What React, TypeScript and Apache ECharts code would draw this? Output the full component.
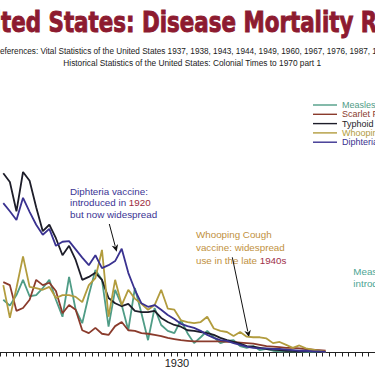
import React, { useEffect, useRef } from 'react';
import * as echarts from 'echarts';

// ---------- data ----------
const firstYear = 1903;
const lastYear = 1959;
const years: string[] = [];
for (let y = firstYear; y <= lastYear; y++) years.push(String(y));

// deaths per 100,000 population, 1903 .. 1952
const measles = [
  9.0, 8.0, 9.8, 12.4, 9.6, 9.8, 11.0, 12.4, 9.0, 6.1,
  12.9, 7.3, 5.0, 9.8, 14.1, 12.4, 4.4, 10.7, 8.1, 3.8,
  11.0, 6.7, 2.1, 7.6, 4.7, 3.7, 3.3, 5.5, 3.3, 1.6,
  2.6, 3.7, 2.6, 1.6, 2.0, 2.1, 1.1, 0.8, 1.1, 0.4,
  0.6, 0.3, 0.2, 0.2, 0.2, 0.2, 0.1, 0.1, 0.1, 0.1,
];
const scarletFever = [
  12.0, 11.5, 7.1, 7.6, 9.0, 12.4, 11.5, 11.9, 10.5, 6.7,
  8.1, 7.3, 3.8, 3.3, 4.2, 3.2, 3.0, 4.5, 5.2, 3.8,
  3.7, 3.3, 3.2, 3.0, 2.8, 2.5, 2.3, 2.1, 2.0, 1.9,
  1.9, 1.9, 1.9, 1.9, 1.8, 1.8, 1.7, 1.6, 1.5, 1.3,
  1.1, 1.0, 0.9, 0.8, 0.8, 0.7, 0.6, 0.5, 0.4, 0.3,
];
const typhoid = [
  30.6, 29.1, 24.1, 30.8, 29.3, 24.8, 20.7, 21.8, 19.5, 16.6,
  18.2, 15.8, 12.4, 12.9, 13.6, 12.4, 9.3, 8.4, 7.9, 8.3,
  7.1, 6.9, 6.9, 7.1, 5.9, 5.2, 4.7, 4.4, 3.8, 3.7,
  3.5, 3.3, 3.0, 2.5, 2.1, 1.8, 1.5, 1.1, 1.0, 0.8,
  0.6, 0.5, 0.4, 0.3, 0.3, 0.2, 0.2, 0.2, 0.1, 0.1,
];
const whoopingCough = [
  11.5, 5.9, 11.0, 16.4, 11.2, 11.0, 10.7, 11.2, 9.3, 9.8,
  9.8, 9.5, 8.6, 11.5, 12.7, 17.5, 6.1, 12.4, 8.1, 10.7,
  9.2, 8.3, 7.3, 8.1, 10.7, 7.5, 7.3, 5.5, 5.2, 5.0,
  5.2, 6.1, 4.1, 3.7, 3.5, 2.8, 3.5, 2.7, 2.6, 2.6,
  2.4, 1.6, 1.8, 1.3, 0.8, 1.2, 0.7, 0.5, 0.3, 0.1,
];
const diphteria = [
  25.5, 24.1, 22.6, 26.4, 24.0, 21.8, 20.1, 21.1, 18.2, 18.9,
  19.0, 17.6, 16.2, 14.9, 16.6, 14.4, 14.9, 15.6, 17.7, 13.6,
  10.7, 8.4, 7.8, 8.1, 7.3, 6.4, 5.7, 4.9, 4.5, 4.2,
  3.7, 3.0, 2.5, 2.1, 2.0, 1.6, 1.3, 1.0, 0.8, 0.7,
  0.7, 0.6, 0.6, 0.5, 0.4, 0.3, 0.3, 0.2, 0.2, 0.1,
];

const seriesNames = ['Measles', 'Scarlet Fever', 'Typhoid', 'Whooping Cough', 'Diphteria'];
const seriesData = [measles, scarletFever, typhoid, whoopingCough, diphteria];
const seriesColors = ['#4f9c86', '#8a3b2c', '#1d1d29', '#b29c3e', '#3a3290'];
const shownYearLabels = ['1930'];

const titleText = 'United States: Disease Mortality Rates';
const refLine1 = 'References: Vital Statistics of the United States 1937, 1938, 1943, 1944, 1949, 1960, 1967, 1976, 1987, 1992';
const refLine2 = 'Historical Statistics of the United States: Colonial Times to 1970 part 1';

const SANS = '"Liberation Sans", Arial, Helvetica, sans-serif';
const NARROW = '"Liberation Sans Narrow", "DejaVu Sans Condensed", "Liberation Sans", sans-serif';

function measure(text: string, font: string): number {
  const ctx = document.createElement('canvas').getContext('2d');
  if (!ctx) return text.length * 6;
  ctx.font = font;
  return ctx.measureText(text).width;
}

function arrow(x1: number, y1: number, x2: number, y2: number) {
  const dx = x2 - x1;
  const dy = y2 - y1;
  const len = Math.hypot(dx, dy);
  const ux = dx / len;
  const uy = dy / len;
  const hl = 7;
  const hw = 3.3;
  const bx = x2 - ux * hl;
  const by = y2 - uy * hl;
  return [
    { type: 'line', shape: { x1, y1, x2: bx + ux, y2: by + uy }, style: { stroke: '#111', lineWidth: 1 } },
    {
      type: 'polygon',
      shape: { points: [[x2, y2], [bx - uy * hw, by + ux * hw], [bx + ux * 2, by + uy * 2], [bx + uy * hw, by - ux * hw]] },
      style: { fill: '#111' },
    },
  ];
}

export default function App() {
  const ref = useRef<HTMLDivElement>(null);

  useEffect(() => {
    if (!ref.current) return;
    const chart = echarts.init(ref.current, undefined, { renderer: 'svg' });

    // title: fitted so that the visible part spans the picture as in the reference
    const titleFont = `bold 28px ${NARROW}`;
    const tScale = 359.7 / measure('ted States: Disease Mortality ', titleFont);
    const tX = 1 - measure('Uni', titleFont) * tScale;

    const refFont = `9px ${SANS}`;
    const r1Scale = 372.7 / measure('eferences: Vital Statistics of the United States 1937, 1938, 1943, 1944, 1949, 1960, 1967, 1976, 1987, ', refFont);
    const r1X = 0 - measure('R', refFont) * r1Scale;
    const r2Scale = 258.4 / measure(refLine2, refFont);

    const option: any = {
      animation: false,
      backgroundColor: '#ffffff',
      grid: { left: -5.1, right: -9.2, top: 118.1, bottom: 22.5, containLabel: false },
      xAxis: {
        type: 'category',
        data: years,
        boundaryGap: true,
        axisLine: { show: true, lineStyle: { color: '#222', width: 1 } },
        axisTick: { show: true, interval: 0, length: 4, lineStyle: { color: '#222', width: 1 } },
        axisLabel: {
          interval: (_i: number, v: string) => shownYearLabels.includes(v),
          fontSize: 11,
          color: '#222',
          fontFamily: SANS,
          margin: 5,
          padding: [0, 8, 0, 0],
        },
        splitLine: { show: false },
      },
      yAxis: { type: 'value', min: 0, max: 40, show: false },
      legend: {
        orient: 'vertical',
        left: 313,
        top: 100.5,
        padding: 0,
        icon: 'rect',
        itemWidth: 24,
        itemHeight: 1.4,
        itemGap: 0.3,
        selectedMode: false,
        textStyle: { fontSize: 9, fontFamily: SANS, lineHeight: 9 },
        data: seriesNames.map((n, i) => ({
          name: n,
          icon: 'rect',
          itemStyle: { color: seriesColors[i] },
          textStyle: { color: seriesColors[i] },
        })),
      },
      series: seriesNames.map((n, i) => ({
        type: 'line',
        name: n,
        data: seriesData[i],
        symbol: 'none',
        showSymbol: false,
        color: seriesColors[i],
        lineStyle: { width: 1.8, color: seriesColors[i] },
        itemStyle: { color: seriesColors[i] },
      })),
      graphic: [
        {
          type: 'text', x: tX, y: 21.2, scaleX: tScale, scaleY: 1.04,
          style: {
            text: titleText, fontSize: 28, fontWeight: 'bold', fontFamily: NARROW,
            fill: '#8d1b30', stroke: '#8d1b30', lineWidth: 0.9, align: 'left', verticalAlign: 'middle',
          },
        },
        {
          type: 'text', x: r1X, y: 50.7, scaleX: r1Scale, scaleY: 1,
          style: { text: refLine1, fontSize: 9, fontFamily: SANS, fill: '#1a1a1a', align: 'left', verticalAlign: 'middle' },
        },
        {
          type: 'text', x: 63.3, y: 62.7, scaleX: r2Scale, scaleY: 1,
          style: { text: refLine2, fontSize: 9, fontFamily: SANS, fill: '#1a1a1a', align: 'left', verticalAlign: 'middle' },
        },
        {
          type: 'text', x: 70, y: 185.3,
          style: {
            text: 'Diphteria vaccine:\nintroduced in {r|1920}\nbut now widespread',
            fontSize: 9.8, fontFamily: SANS, fill: '#3a3494', lineHeight: 11.7, align: 'left', verticalAlign: 'top',
            rich: { r: { fill: '#9c2b3d', fontSize: 9.8, fontFamily: SANS, lineHeight: 11.7 } },
          },
        },
        {
          type: 'text', x: 196, y: 228.7,
          style: {
            text: 'Whooping Cough\nvaccine: widespread\nuse in the late {r|1940s}',
            fontSize: 9.8, fontFamily: SANS, fill: '#bf9140', lineHeight: 12.6, align: 'left', verticalAlign: 'top',
            rich: { r: { fill: '#9e3049', fontSize: 9.8, fontFamily: SANS, lineHeight: 12.6 } },
          },
        },
        {
          type: 'text', x: 353.3, y: 265.5,
          style: {
            text: 'Measles vaccine:\nintroduced in 1963',
            fontSize: 9.8, fontFamily: SANS, fill: '#4da594', lineHeight: 12.3, align: 'left', verticalAlign: 'top',
          },
        },
        ...arrow(109.3, 224, 116.7, 251.7),
        ...arrow(232.3, 257.3, 249, 337.3),
      ],
    };

    chart.setOption(option);
    return () => chart.dispose();
  }, []);

  return (
    <div
      ref={ref}
      style={{ position: 'fixed', left: 0, top: 0, width: 375, height: 375, background: '#fff' }}
    />
  );
}
